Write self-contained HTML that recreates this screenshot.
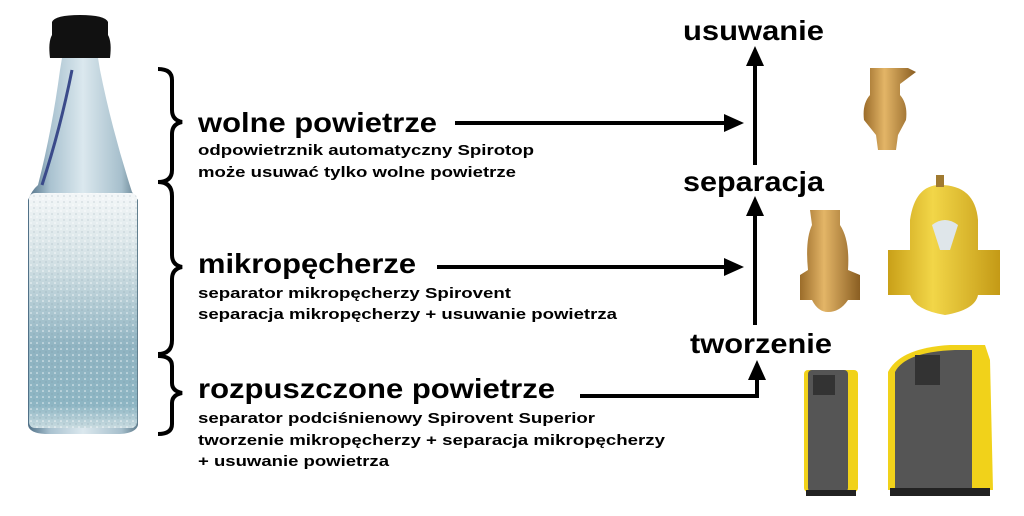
<!DOCTYPE html>
<html><head><meta charset="utf-8"><style>
html,body{margin:0;padding:0;background:#fff;}
svg{display:block;}
text{font-family:"Liberation Sans",sans-serif;font-weight:bold;fill:#000;}
</style></head><body>
<svg width="1024" height="516" viewBox="0 0 1024 516" xmlns="http://www.w3.org/2000/svg">
<defs>
<linearGradient id="glass" x1="0" x2="1">
<stop offset="0" stop-color="#4f6f86"/><stop offset="0.2" stop-color="#a9c2d0"/><stop offset="0.5" stop-color="#dbe8ee"/><stop offset="0.85" stop-color="#a6bfcc"/><stop offset="1" stop-color="#5f7c8c"/>
</linearGradient>
<linearGradient id="water" x1="0" y1="0" x2="0" y2="1">
<stop offset="0" stop-color="#f4f7f8"/><stop offset="0.3" stop-color="#d2e0e4"/><stop offset="0.65" stop-color="#90b4c2"/><stop offset="0.9" stop-color="#8db5c3"/><stop offset="1" stop-color="#c9dbe0"/>
</linearGradient>
<pattern id="dots" width="6" height="6" patternUnits="userSpaceOnUse">
<circle cx="1" cy="1" r="0.8" fill="#fff" opacity="0.8"/><circle cx="4" cy="4" r="0.6" fill="#6d8a98" opacity="0.5"/>
</pattern>
<linearGradient id="brass" x1="0" x2="1">
<stop offset="0" stop-color="#9b6c2a"/><stop offset="0.4" stop-color="#e3b567"/><stop offset="1" stop-color="#8a5e22"/>
</linearGradient>
<linearGradient id="yel" x1="0" x2="1">
<stop offset="0" stop-color="#c9a018"/><stop offset="0.4" stop-color="#f2d648"/><stop offset="1" stop-color="#c49a16"/>
</linearGradient>
</defs>
<!-- bottle -->
<path d="M52 22 Q55 15 80 15 Q105 15 108 22 L108 35 Q112 42 110 58 L50 58 Q48 42 52 35 Z" fill="#111"/>
<path d="M62 58 L98 58 L100 70 Q112 130 132 192 L138 200 L138 425 Q136 433 120 434 L45 434 Q29 433 28 425 L28 200 Q32 190 38 185 Q52 130 60 70 Z" fill="url(#glass)"/>
<rect x="29" y="193" width="108" height="235" rx="6" fill="url(#water)"/>
<rect x="29" y="193" width="108" height="235" rx="6" fill="url(#dots)"/>
<path d="M72 70 Q60 130 42 185" stroke="#3a4a8a" stroke-width="3" fill="none"/>
<!-- braces -->
<g stroke="#000" stroke-width="4" fill="none">
<path d="M158 69 Q172 69 172 80 L172 110 Q172 120 182 122 Q172 124 172 134 L172 170 Q172 182 158 182"/>
<path d="M158 182 Q172 182 172 196 L172 255 Q172 265 182 267 Q172 269 172 279 L172 340 Q172 354 158 354"/>
<path d="M158 356 Q172 356 172 366 L172 383 Q172 391 182 393 Q172 395 172 403 L172 424 Q172 434 158 434"/>
</g>
<!-- texts -->
<text x="198" y="132" font-size="28" textLength="239" lengthAdjust="spacingAndGlyphs">wolne powietrze</text>
<text x="198" y="155" font-size="15" textLength="336" lengthAdjust="spacingAndGlyphs">odpowietrznik automatyczny Spirotop</text>
<text x="198" y="177" font-size="15" textLength="318" lengthAdjust="spacingAndGlyphs">może usuwać tylko wolne powietrze</text>
<text x="198" y="273" font-size="28" textLength="218" lengthAdjust="spacingAndGlyphs">mikropęcherze</text>
<text x="198" y="298" font-size="15" textLength="313" lengthAdjust="spacingAndGlyphs">separator mikropęcherzy Spirovent</text>
<text x="198" y="319" font-size="15" textLength="419" lengthAdjust="spacingAndGlyphs">separacja mikropęcherzy + usuwanie powietrza</text>
<text x="198" y="398" font-size="28" textLength="357" lengthAdjust="spacingAndGlyphs">rozpuszczone powietrze</text>
<text x="198" y="423" font-size="15" textLength="397" lengthAdjust="spacingAndGlyphs">separator podciśnienowy Spirovent Superior</text>
<text x="198" y="445" font-size="15" textLength="467" lengthAdjust="spacingAndGlyphs">tworzenie mikropęcherzy + separacja mikropęcherzy</text>
<text x="198" y="466" font-size="15" textLength="191" lengthAdjust="spacingAndGlyphs">+ usuwanie powietrza</text>
<text x="683" y="40" font-size="28" textLength="141" lengthAdjust="spacingAndGlyphs">usuwanie</text>
<text x="683" y="191" font-size="28" textLength="141" lengthAdjust="spacingAndGlyphs">separacja</text>
<text x="690" y="353" font-size="28" textLength="142" lengthAdjust="spacingAndGlyphs">tworzenie</text>
<!-- arrows -->
<g stroke="#000" stroke-width="4" fill="none">
<line x1="455" y1="123" x2="728" y2="123"/>
<line x1="437" y1="267" x2="728" y2="267"/>
<polyline points="580,396 757,396 757,378"/>
<line x1="755" y1="325" x2="755" y2="212"/>
<line x1="755" y1="165" x2="755" y2="62"/>
</g>
<g fill="#000">
<polygon points="744,123 724,114 724,132"/>
<polygon points="744,267 724,258 724,276"/>
<polygon points="757,360 748,380 766,380"/>
<polygon points="755,196 746,216 764,216"/>
<polygon points="755,46 746,66 764,66"/>
</g>
<!-- products -->
<path d="M870 68 L908 68 L916 72 L908 78 L900 84 L900 95 Q908 104 906 120 L898 135 L896 150 L878 150 L876 135 L864 120 Q862 104 870 95 Z" fill="url(#brass)"/>
<path d="M810 210 L840 210 L840 225 Q850 240 848 270 L860 275 L860 300 L848 300 Q840 312 828 312 Q818 312 812 300 L800 300 L800 275 L808 270 Q805 240 812 225 Z" fill="url(#brass)"/>
<path d="M940 185 Q975 185 978 220 L978 250 L1000 250 L1000 295 L978 295 Q975 310 945 315 Q915 310 910 295 L888 295 L888 250 L910 250 L910 220 Q915 185 940 185 Z" fill="url(#yel)"/>
<rect x="936" y="175" width="8" height="12" fill="#a07a30"/>
<path d="M932 225 Q945 215 958 225 L950 250 L940 250 Z" fill="#dfe6ea"/>
<rect x="804" y="370" width="54" height="122" rx="4" fill="#f1d21a"/>
<rect x="808" y="370" width="40" height="122" rx="4" fill="#555"/>
<rect x="813" y="375" width="22" height="20" fill="#333"/>
<rect x="806" y="490" width="50" height="6" fill="#222"/>
<path d="M888 372 Q900 348 950 345 L985 345 L990 360 L993 490 L888 490 Z" fill="#f1d21a"/>
<path d="M895 372 Q905 352 955 350 L972 350 L972 490 L895 490 Z" fill="#555"/>
<rect x="915" y="355" width="25" height="30" fill="#333"/>
<rect x="890" y="488" width="100" height="8" fill="#222"/>
</svg>
</body></html>
